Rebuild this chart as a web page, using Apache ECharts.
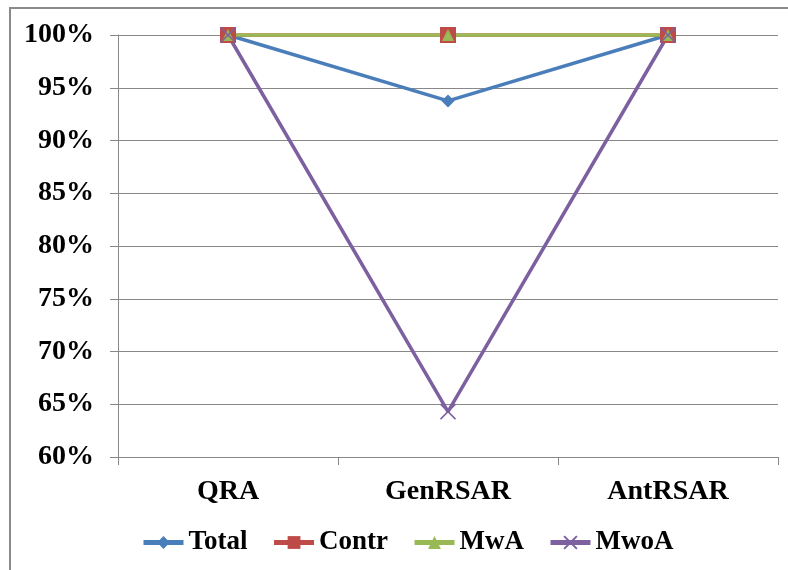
<!DOCTYPE html>
<html><head><meta charset="utf-8">
<script src="https://cdn.jsdelivr.net/npm/echarts@6/dist/echarts.min.js"></script>
<style>html,body{margin:0;padding:0;background:#fff}#c{width:788px;height:570px}</style>
</head><body><div id="c"></div>
<script>
const categories = ['QRA', 'GenRSAR', 'AntRSAR'];
const total = [100, 93.75, 100];
const contr = [100, 100, 100];
const mwa = [100, 100, 100];
const mwoa = [100, 64.3, 100];
const yTicks = [60, 65, 70, 75, 80, 85, 90, 95, 100];

const font = 'Liberation Serif';
const chart = echarts.init(document.getElementById('c'));
const crossPath = 'path://M0,0L10,10M10,0L0,10';
chart.setOption({
  animation: false,
  graphic: [{ type: 'rect', shape: { x: 10, y: 8, width: 800, height: 600 }, style: { fill: 'none', stroke: '#8a8a8a', lineWidth: 2 }, z: -1 }],
  grid: { left: 118, right: 10, top: 35, bottom: 113 },
  legend: {
    top: 529, left: 141, padding: 0, itemGap: 24, itemWidth: 40, itemHeight: 16,
    lineStyle: { width: 5 },
    textStyle: { fontFamily: font, fontWeight: 'bold', fontSize: 27, color: '#000' },
    data: ['Total', 'Contr', 'MwA', 'MwoA']
  },
  xAxis: {
    type: 'category', data: categories, boundaryGap: true,
    axisLine: { lineStyle: { color: '#888', width: 1 } },
    axisTick: { show: true, length: 8, lineStyle: { color: '#888' } },
    axisLabel: { margin: 21, fontFamily: font, fontWeight: 'bold', fontSize: 28, color: '#000' }
  },
  yAxis: {
    type: 'value', min: 60, max: 100, interval: 5,
    axisLine: { show: true, lineStyle: { color: '#888' } },
    axisTick: { show: true, length: 8, lineStyle: { color: '#888' } },
    splitLine: { lineStyle: { color: '#888', width: 1 } },
    axisLabel: { margin: 24, fontFamily: font, fontWeight: 'bold', fontSize: 28, color: '#000', formatter: v => yTicks.includes(v) ? v + '%' : '' }
  },
  series: [
    { name: 'Total', type: 'line', data: total, symbol: 'diamond', symbolSize: 13,
      lineStyle: { color: '#4A7EBB', width: 3.5 }, itemStyle: { color: '#4A7EBB' } },
    { name: 'Contr', type: 'line', data: contr, symbol: 'rect', symbolSize: 16,
      lineStyle: { color: '#BE4B48', width: 3.5 }, itemStyle: { color: '#BE4B48' } },
    { name: 'MwA', type: 'line', data: mwa, symbol: 'triangle', symbolSize: 12,
      lineStyle: { color: '#98B954', width: 3.5 }, itemStyle: { color: '#98B954' } },
    { name: 'MwoA', type: 'line', data: mwoa, symbol: crossPath, symbolSize: 15,
      lineStyle: { color: '#7D60A0', width: 3.5 }, itemStyle: { color: 'none', borderColor: '#7D60A0', borderWidth: 1.5 } }
  ]
});
</script></body></html>
